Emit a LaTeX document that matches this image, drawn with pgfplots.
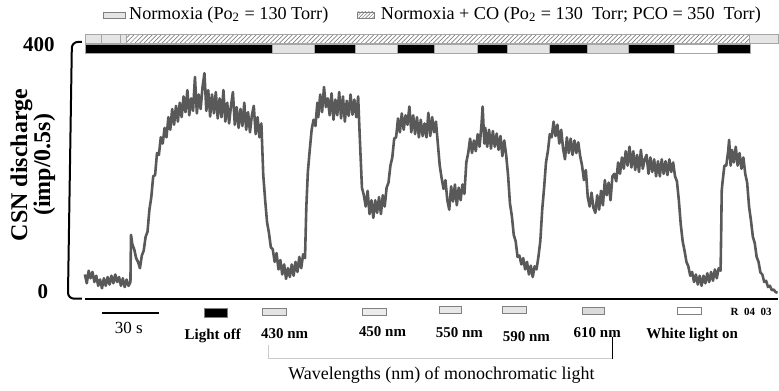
\documentclass[border=0pt]{standalone}
\usepackage{pgfplots}
\pgfplotsset{compat=1.18}
\usepackage{pgfplotstable}
\usepackage{fontspec}
\setmainfont{Liberation Serif}
\usetikzlibrary{patterns.meta}

\pgfplotstableread{
t v
0 32
1 18
2 38
3 26
4 36
5 20
6 30
7 14
8 24
9 10
10 26
11 14
12 28
13 16
14 30
15 18
16 32
17 20
18 28
19 14
20 26
21 12
22 24
23 14
24 20
24.3 95
25 80
26 72
27 58
28 52
29 42
30 62
31 70
32 92
33 100
34 135
35 155
36 188
37 190
38 225
39 222
40 250
41 240
42 265
43 250
44 282
45 262
46 295
47 270
48 300
49 275
50 305
51 282
52 315
53 290
54 325
55 285
56 312
57 292
58 346
59 288
60 318
61 295
62 330
63 352
64 292
65 325
66 283
67 318
68 288
69 322
70 280
71 312
72 282
73 325
74 275
75 305
76 272
77 300
78 322
79 270
80 298
81 265
82 295
83 268
84 305
85 262
86 290
87 258
88 285
89 300
90 255
91 282
92 250
93 272
94 190
95 150
96 115
97 98
98 75
99 72
100 52
101 66
102 40
103 55
104 32
105 48
106 25
107 42
108 28
109 48
110 30
111 52
112 36
113 60
114 42
115 64
116 58
116.7 140
117.5 195
118.5 230
119.5 262
120.5 278
121.5 268
122.5 305
123 282
124 318
125 290
126 330
127 298
128 312
129 285
130 320
131 278
132 310
133 285
134 322
135 280
136 315
137 275
138 308
139 284
140 318
141 286
142 310
143 282
144 315
145 240
146 170
147 158
148 140
149 165
150 128
151 150
152 122
153 150
154 130
155 155
156 128
157 158
158 140
159 170
160 178
161 205
162 218
163 248
164 250
165 280
166 258
167 288
168 262
169 285
170 270
171 299
172 258
173 285
174 255
175 282
176 250
177 278
178 252
179 272
180 250
181 289
182 252
183 282
184 258
185 275
186 240
187 205
188 185
189 168
190 182
191 150
192 135
193 172
194 148
195 175
196 142
197 170
198 150
199 175
200 160
201 210
202 225
203 248
204 225
205 245
206 228
207 255
208 235
209 270
209.6 299
210.5 240
211 265
212 235
213 262
214 232
215 260
216 235
217 256
218 230
219 252
220 220
221 245
222 222
223 190
224 145
225 125
226 95
227 85
228 60
229 62
230 48
231 58
232 40
233 52
234 32
235 46
236 28
237 45
238 40
239 60
240 85
241 135
242 170
243 210
244 228
245 255
246 250
247 275
248 252
249 270
250 240
251 262
252 232
253 215
254 250
255 225
256 248
257 222
258 245
259 225
260 242
261 220
262 205
263 182
264 198
265 155
266 140
267 162
268 138
269 130
270 158
271 135
272 165
273 142
274 182
275 158
276 178
277 150
278 188
279 192
280 180
281 210
282 192
283 218
284 200
285 228
286 205
287 235
288 202
289 228
290 198
291 222
292 195
293 230
294 200
295 215
296 222
297 192
298 218
299 195
300 215
301 188
302 212
303 188
304 215
305 192
306 212
307 190
308 215
309 195
310 210
311 188
312 180
313 150
314 112
315 85
316 70
317 52
318 45
319 30
320 36
321 20
322 32
323 16
324 30
325 14
326 30
327 18
328 34
329 20
330 36
331 22
332 40
333 26
334 42
335 38
335.3 95
335.6 165
336 178
337 205
338 205
339 228
339.5 246
340.3 205
341 230
342 210
343 235
344 205
345 225
346 200
347 218
348 192
349 178
350 140
351 118
352 92
353 82
354 60
355 52
356 35
357 32
358 20
359 22
360 12
361 14
362 7
363 8
364 4
365 3
}\trace

\begin{document}
\begin{tikzpicture}
\begin{axis}[x=0.95pt, y=0.315pt, xmin=-9, xmax=365.3, ymin=-7, ymax=414,
  hide axis, clip=false]
\coordinate (O) at (axis cs:0,0);
\addplot[black!65, line width=1.3pt, line join=round, mark=none] table[x=t,y=v] {\trace};
% stimulus bar
\begin{scope}[draw=gray!70, line width=0.3pt]
\filldraw[fill=black] (axis cs:0,384) rectangle (axis cs:98.7,398);
\filldraw[fill=gray!22] (axis cs:98.7,384) rectangle (axis cs:121.1,398);
\filldraw[fill=black] (axis cs:121.1,384) rectangle (axis cs:142.4,398);
\filldraw[fill=gray!15] (axis cs:142.4,384) rectangle (axis cs:164.5,398);
\filldraw[fill=black] (axis cs:164.5,384) rectangle (axis cs:184.2,398);
\filldraw[fill=gray!18] (axis cs:184.2,384) rectangle (axis cs:206.8,398);
\filldraw[fill=black] (axis cs:206.8,384) rectangle (axis cs:222.6,398);
\filldraw[fill=gray!20] (axis cs:222.6,384) rectangle (axis cs:244.5,398);
\filldraw[fill=black] (axis cs:244.5,384) rectangle (axis cs:264.7,398);
\filldraw[fill=gray!28] (axis cs:264.7,384) rectangle (axis cs:286.3,398);
\filldraw[fill=black] (axis cs:286.3,384) rectangle (axis cs:310.5,398);
\filldraw[fill=white] (axis cs:310.5,384) rectangle (axis cs:333.4,398);
\filldraw[fill=black] (axis cs:333.4,384) rectangle (axis cs:350.5,398);
% gas bar
\filldraw[fill=gray!20] (axis cs:0,400) rectangle (axis cs:8.8,414);
\filldraw[fill=gray!20] (axis cs:8.8,400) rectangle (axis cs:18.8,414);
\filldraw[fill=gray!20] (axis cs:18.8,400) rectangle (axis cs:21.6,414);
\filldraw[fill=white, pattern={Lines[angle=45,distance=1.6pt,line width=0.35pt]}, pattern color=gray] (axis cs:21.6,400) rectangle (axis cs:350,414);
\filldraw[fill=gray!20] (axis cs:350,400) rectangle (axis cs:365.3,414);
\end{scope}
\end{axis}
\begin{scope}[shift={(O)}, x=0.5pt, y=-0.5pt, shift={(-85,-295)}]
\path (0,0) rectangle (779,387);
% axes
\draw[line width=1pt, rounded corners=3pt] (82,42) -- (72,42) -- (68,299) -- (82,299);
\draw[line width=1pt] (85,299) -- (779,299);
\node[font=\bfseries\fontsize{10.5}{12}\selectfont] at (39,45) {400};
\node[font=\bfseries\fontsize{10.5}{12}\selectfont] at (43,292) {0};
\node[rotate=90, font=\bfseries\fontsize{12}{11.5}\selectfont, align=center] at (33,165) {CSN discharge\\(imp/0.5s)};
% legend
\draw[gray, fill=gray!20, line width=0.3pt] (103,12) rectangle (125,18);
\node[anchor=west, font=\fontsize{9.1}{11}\selectfont, inner sep=0pt] at (129,15) {Normoxia\ (Po\textsubscript{2} = 130 Torr)};
\draw[gray, pattern={Lines[angle=45,distance=1.2pt,line width=0.3pt]}, pattern color=gray, line width=0.3pt] (358,12) rectangle (375,18);
\node[anchor=west, font=\fontsize{9.1}{11}\selectfont, inner sep=0pt] at (381,15) {Normoxia + CO (Po\textsubscript{2} = 130\ \ Torr; PCO = 350\ \ Torr)};
% bottom annotations
\draw[line width=1pt] (102,313) -- (159,313);
\node[font=\fontsize{8.5}{10}\selectfont] at (129,328) {30 s};
\filldraw[draw=gray, fill=black, line width=0.3pt] (205,309) rectangle (228,318);
\node[font=\bfseries\fontsize{7.5}{9}\selectfont] at (213,336) {Light off};
\filldraw[draw=gray, fill=gray!22, line width=0.3pt] (263,309) rectangle (287,316);
\node[font=\bfseries\fontsize{7.5}{9}\selectfont] at (285,334) {430 nm};
\filldraw[draw=gray, fill=gray!15, line width=0.3pt] (363,309) rectangle (387,316);
\node[font=\bfseries\fontsize{7.5}{9}\selectfont] at (383,332) {450 nm};
\filldraw[draw=gray, fill=gray!18, line width=0.3pt] (440,307) rectangle (462,314);
\node[font=\bfseries\fontsize{7.5}{9}\selectfont] at (460,333) {550 nm};
\filldraw[draw=gray, fill=gray!20, line width=0.3pt] (503,307) rectangle (527,314);
\node[font=\bfseries\fontsize{7.5}{9}\selectfont] at (527,337) {590 nm};
\filldraw[draw=gray, fill=gray!28, line width=0.3pt] (583,308) rectangle (605,315);
\node[font=\bfseries\fontsize{7.5}{9}\selectfont] at (598,333) {610 nm};
\filldraw[draw=gray, fill=white, line width=0.3pt] (678,308) rectangle (702,315);
\node[font=\bfseries\fontsize{7.5}{9}\selectfont] at (693,335) {White light on};
\node[font=\bfseries\fontsize{5.5}{7}\selectfont] at (752,312) {R\ \ 04\ \ 03};
\draw[gray!40, line width=0.5pt] (269,345) -- (269,359) -- (613,359);
\draw[line width=0.5pt] (613,337) -- (613,359);
\node[font=\fontsize{9}{11}\selectfont] at (442,376) {Wavelengths (nm) of monochromatic light};
\end{scope}
\end{tikzpicture}
\end{document}
